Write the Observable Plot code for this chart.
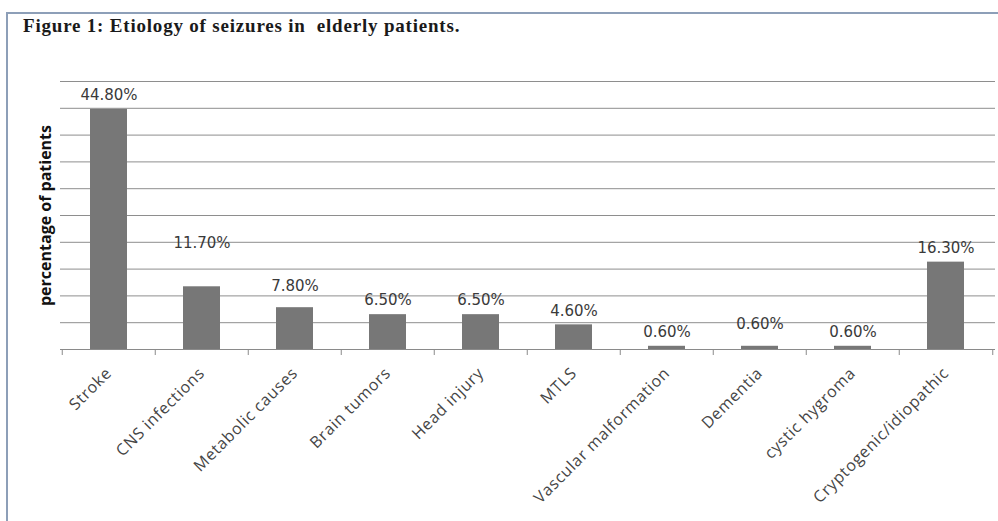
<!DOCTYPE html>
<html>
<head>
<meta charset="utf-8">
<script src="https://cdn.jsdelivr.net/npm/d3@7"></script>
<script src="https://cdn.jsdelivr.net/npm/@observablehq/plot@0.6"></script>
<style>
  html, body { margin: 0; padding: 0; background: #fff; width: 998px; height: 521px; overflow: hidden; }
  #frame { position: absolute; left: 6px; top: 12px; width: 992px; height: 509px;
           border-left: 2px solid #8d9fb8; border-top: 2px solid #8d9fb8; box-sizing: border-box; }
  #title { position: absolute; left: 23px; top: 15px; font-family: "Liberation Serif", serif;
           font-weight: bold; font-size: 19px; letter-spacing: 0.8px; color: #1a1a1a; white-space: pre; }
  #chart { position: absolute; left: 0; top: 50px; }
  g[aria-label="value labels"] text { letter-spacing: 1.2px; }
  g[aria-label="y label"] text { letter-spacing: 0.8px; }
  g[aria-label="x-axis tick label"] text { letter-spacing: 0.7px; }
</style>
</head>
<body>
<div id="frame"></div>
<div id="title">Figure 1: Etiology of seizures in  elderly patients.</div>
<div id="chart"></div>
<script>
const categories = ["Stroke", "CNS infections", "Metabolic causes", "Brain tumors", "Head injury",
  "MTLS", "Vascular malformation", "Dementia", "cystic hygroma", "Cryptogenic/idiopathic"];
const percentages = [44.8, 11.7, 7.8, 6.5, 6.5, 4.6, 0.6, 0.6, 0.6, 16.3];
const valueLabels = ["44.80%", "11.70%", "7.80%", "6.50%", "6.50%", "4.60%", "0.60%", "0.60%", "0.60%", "16.30%"];
const gridTicks = [5, 10, 15, 20, 25, 30, 35, 40, 45, 50];
const yAxisLabel = "percentage of patients";

const data = categories.map((c, i) => ({category: c, value: percentages[i], label: valueLabels[i], i}));

const W = 998, H = 471, mL = 60, mR = 3, mT = 31, mB = 172;
const step = (W - mL - mR) / categories.length;

const labelFont = {fontFamily: "DejaVu Sans", fontSize: 15, fill: "#3a3a3a", ariaLabel: "value labels"};
const higher = new Set(["Metabolic causes", "Dementia"]);

const chart = Plot.plot({
  width: W, height: H,
  marginLeft: mL, marginRight: mR, marginTop: mT, marginBottom: mB,
  style: {fontFamily: "Open Sans", fontSize: "16px", color: "#454545", background: "transparent"},
  x: {domain: categories, paddingInner: 0.6, paddingOuter: 0.3, tickRotate: -45, tickSize: 0, tickPadding: 21, label: null},
  y: {domain: [0, 50], axis: null},
  marks: [
    Plot.ruleY(gridTicks, {stroke: "#8e8e8e", strokeWidth: 1}),
    Plot.barY(data, {x: "category", y: "value", fill: "#777777"}),
    Plot.ruleY([0], {stroke: "#8a8a8a", strokeWidth: 1.2}),
    Plot.ruleX(categories, {x: d => d, y1: 0, y2: 0, insetBottom: -6, dx: -step / 2, stroke: "#8a8a8a"}),
    Plot.ruleX(categories.slice(-1), {x: d => d, y1: 0, y2: 0, insetBottom: -6, dx: step / 2, stroke: "#8a8a8a"}),
    Plot.text(data.filter(d => d.category !== "CNS infections" && !higher.has(d.category)),
      {x: "category", y: "value", text: "label", dy: -14, ...labelFont}),
    Plot.text(data.filter(d => higher.has(d.category)),
      {x: "category", y: "value", text: "label", dy: -22, ...labelFont}),
    Plot.text(data.filter(d => d.category === "CNS infections"),
      {x: "category", y: "value", text: "label", dy: -44, ...labelFont}),
    Plot.text([yAxisLabel], {text: d => d, frameAnchor: "left", textAnchor: "middle", rotate: -90, dx: -15,
      fontFamily: "Open Sans", fontWeight: "bold", fontSize: 16, fill: "#111", ariaLabel: "y label"})
  ]
});
document.getElementById("chart").appendChild(chart);
</script>
</body>
</html>
